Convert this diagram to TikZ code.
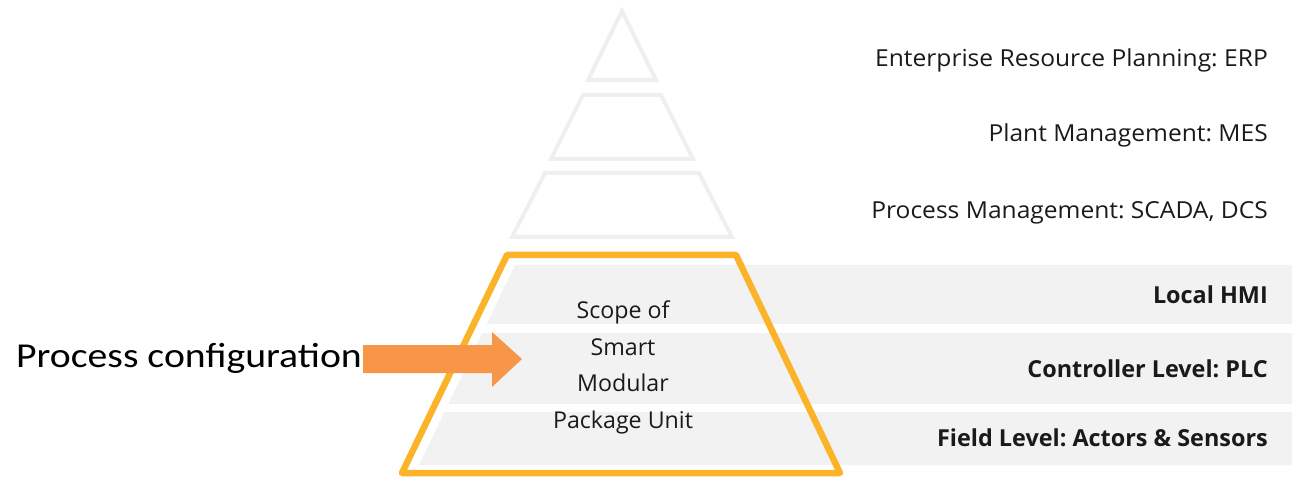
\documentclass[tikz,border=0pt]{standalone}
\usepackage{fontspec}
\usetikzlibrary{calc}
\setmainfont{Open Sans}
\newfontfamily\carl{Carlito}
\definecolor{lineGray}{HTML}{EFEFEF}
\definecolor{bandGray}{HTML}{F2F2F2}
\definecolor{scopeOrange}{HTML}{FBB42A}
\definecolor{arrowOrange}{HTML}{F79646}
\definecolor{txt}{HTML}{1A1A1A}
\frenchspacing
\begin{document}
\begin{tikzpicture}[x=1pt,y=-1pt,
  layer/.style={draw=lineGray, line width=4pt, fill=white, line join=miter},
  band/.style={fill=bandGray, draw=none},
  uplabel/.style={anchor=base east, inner sep=0pt, text=txt, font=\fontsize{23.4}{28}\selectfont},
  lowlabel/.style={anchor=base east, inner sep=0pt, text=txt, font=\fontsize{23.4}{28}\selectfont\bfseries},
  scopebox/.style={draw=scopeOrange, line width=6.5pt, line join=round}]
\useasboundingbox (0,0) rectangle (1293,478);
% upper layers of the pyramid
\draw[layer] (622,11) -- (656,80) -- (588,80) -- cycle;
\draw[layer] (583,95) -- (661,95) -- (693,159) -- (551,159) -- cycle;
\draw[layer] (545,173) -- (699,173) -- (732,237) -- (512,237) -- cycle;
% lower bands
\fill[band] (515,265) -- (1292,265) -- (1292,324) -- (486.7,324) -- cycle;
\fill[band] (482.4,333) -- (1292,333) -- (1292,404) -- (448.3,404) -- cycle;
\fill[band] (444.4,412) -- (1292,412) -- (1292,465) -- (419,465) -- cycle;
% scope outline
\draw[scopebox] (507,255) -- (736,255) -- (840,473) -- (402,473) -- cycle;
% labels
\node[uplabel] (erp) at (1268,67) {\scalebox{1.05}[1]{Enterprise Resource Planning: ERP}};
\node[uplabel] (mes) at (1268,142) {\scalebox{1.05}[1]{Plant Management: MES}};
\node[uplabel] (scada) at (1268,219) {\scalebox{1.05}[1]{Process Management: SCADA, DCS}};
\node[lowlabel] (hmi) at (1268,304) {Local HMI};
\node[lowlabel] (plc) at (1268,377) {Controller Level: PLC};
\node[lowlabel] (field) at (1268,446) {Field Level: Actors \& Sensors};
% scope text
\node[inner sep=0pt, align=center, text=txt, font=\fontsize{23.2}{36.5}\selectfont] (scope) at (623,367.5) {Scope of\\Smart\\Modular\\Package Unit};
% process configuration
\node[anchor=base east, inner sep=0pt, text=black, font=\carl\fontsize{35}{40}\selectfont] (proc) at (362,367.5) {\scalebox{1.135}[1]{Process configuration}};
\coordinate (tail) at (363,359);
\coordinate (tip) at (522,359);
\fill[arrowOrange] ($(tail)+(0,-14)$) -- ($(tip)+(-30,-14)$) -- ($(tip)+(-30,-27)$) -- (tip) -- ($(tip)+(-30,28)$) -- ($(tip)+(-30,14)$) -- ($(tail)+(0,14)$) -- cycle;
\end{tikzpicture}
\end{document}
